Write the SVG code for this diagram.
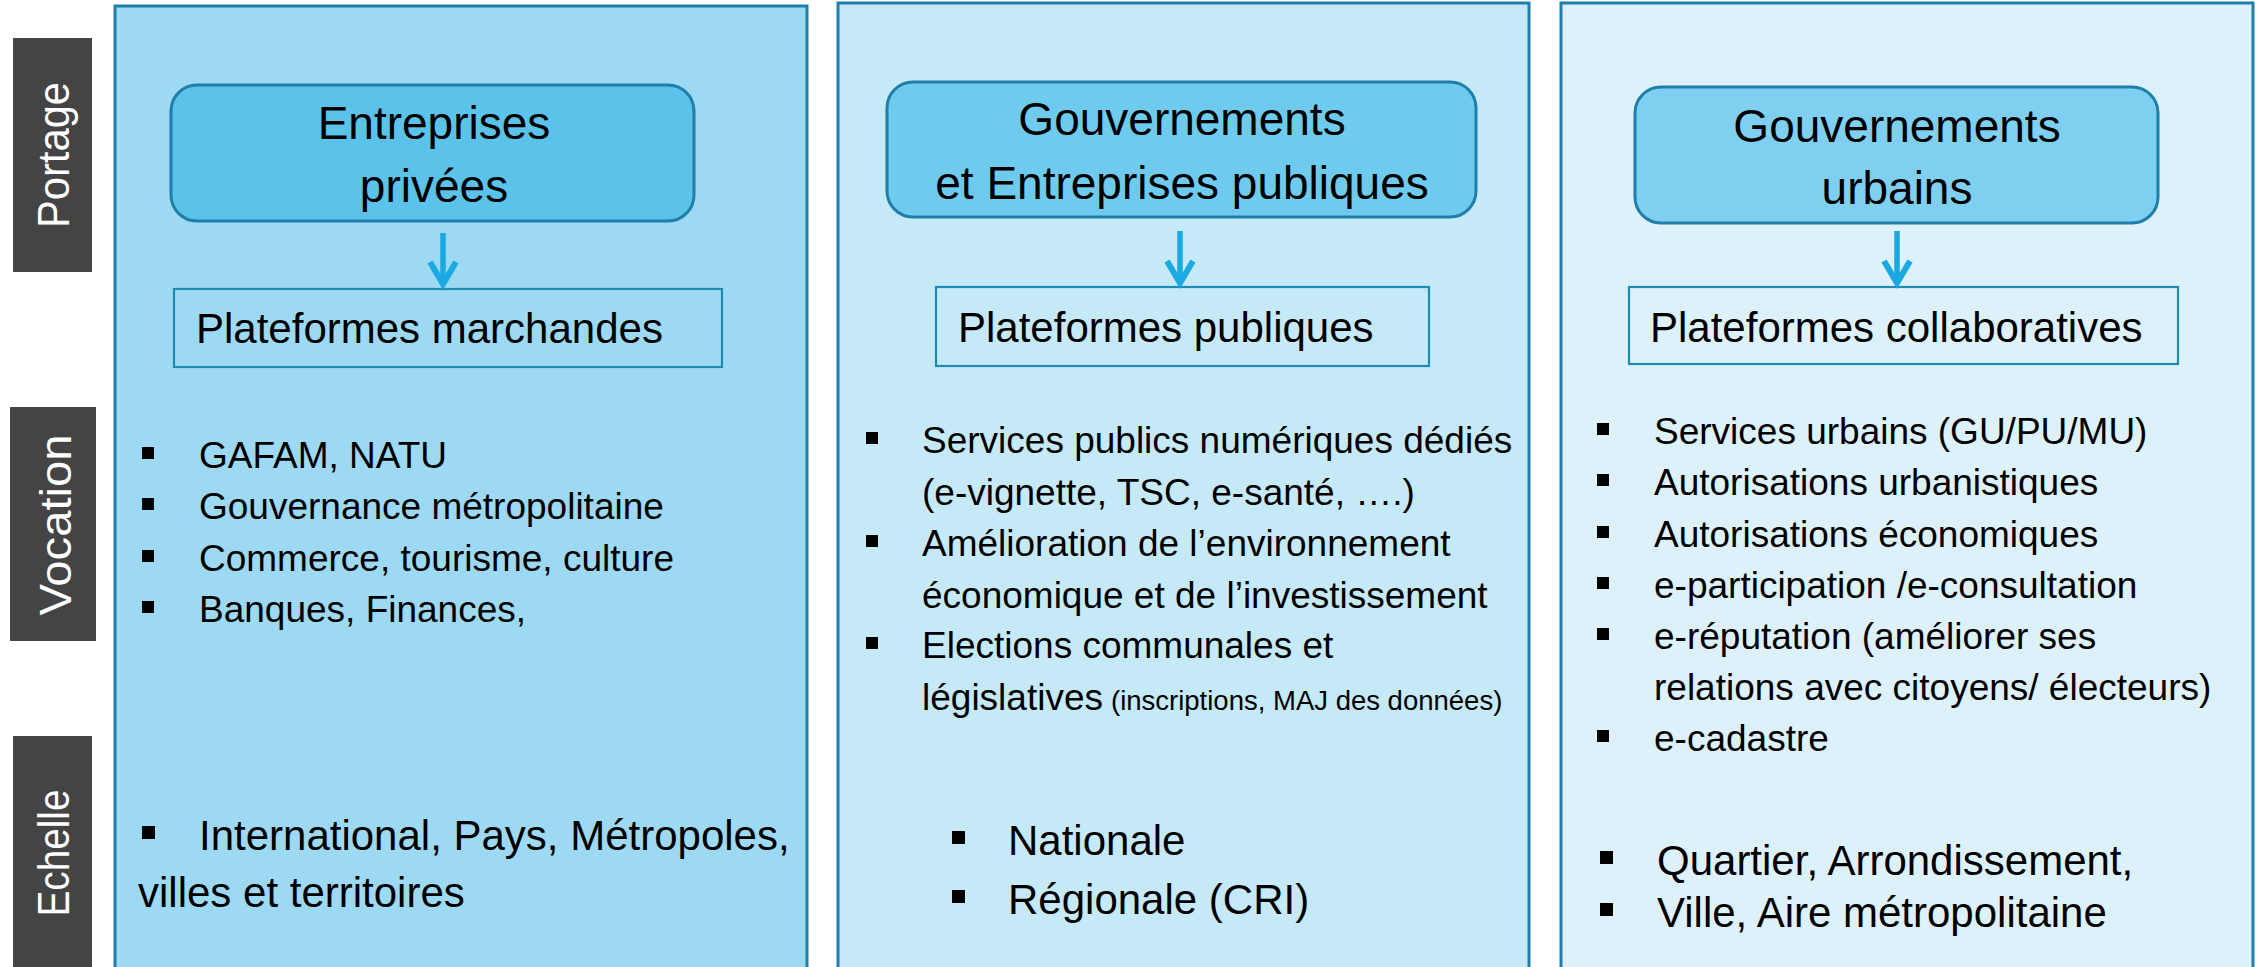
<svg xmlns="http://www.w3.org/2000/svg" width="2262" height="967" viewBox="0 0 2262 967">
<defs>
<style>
.lab{fill:#444444}
.labt{font-family:"Liberation Sans",Arial,sans-serif;font-size:44px;fill:#ffffff;text-anchor:middle}
.panel{stroke:#1f7faa;stroke-width:3}
.head{stroke:#1f7faa;stroke-width:3}
.plat{fill:none;stroke:#1f8ab3;stroke-width:2.2}
.t{font-family:"Liberation Sans",Arial,sans-serif;fill:#000000}
.title{font-size:46px;text-anchor:middle}
.pt{font-size:42px}
.b{font-size:37px}
.e{font-size:42px}
.sm{font-size:27.5px}
.bul{fill:#000000}
.arr{stroke:#1ba9e1;stroke-width:5.5;fill:none;stroke-linecap:butt}
.arrh{stroke:#1ba9e1;stroke-width:6;fill:none;stroke-linejoin:miter;stroke-linecap:butt}
</style>
</defs>
<rect width="2262" height="967" fill="#ffffff"/>

<g id="label-portage">
<rect class="lab" x="13" y="38" width="79" height="234"/>
<text class="labt" transform="translate(69,155) rotate(-90)" textLength="146" lengthAdjust="spacingAndGlyphs">Portage</text>
</g>
<g id="label-vocation">
<rect class="lab" x="10" y="407" width="86" height="234"/>
<text class="labt" transform="translate(71,525) rotate(-90)" textLength="181" lengthAdjust="spacingAndGlyphs">Vocation</text>
</g>
<g id="label-echelle">
<rect class="lab" x="13" y="736" width="79" height="240"/>
<text class="labt" transform="translate(69,853) rotate(-90)" textLength="127" lengthAdjust="spacingAndGlyphs">Echelle</text>
</g>

<g id="panel-prive">
<rect class="panel" x="115" y="6" width="692" height="975" fill="#9dd9f2"/>
</g>
<g id="panel-public">
<rect class="panel" x="838" y="3" width="691" height="978" fill="#c6e9f8"/>
</g>
<g id="panel-urbain">
<rect class="panel" x="1561" y="3" width="692" height="978" fill="#ddf1fb"/>
</g>

<g id="node-entreprises-privees">
<rect class="head" x="171" y="85" width="523" height="136" rx="26" fill="#5bc3ea"/>
<text class="t title" x="434" y="139">Entreprises</text>
<text class="t title" x="434" y="202">privées</text>
</g>
<g id="node-gouv-entreprises-publiques">
<rect class="head" x="887" y="82" width="589" height="135" rx="26" fill="#6fcbee"/>
<text class="t title" x="1182" y="135">Gouvernements</text>
<text class="t title" x="1182" y="199">et Entreprises publiques</text>
</g>
<g id="node-gouv-urbains">
<rect class="head" x="1635" y="87" width="523" height="136" rx="26" fill="#7fd0f0"/>
<text class="t title" x="1897" y="142">Gouvernements</text>
<text class="t title" x="1897" y="204">urbains</text>
</g>

<g id="node-plateformes-marchandes">
<rect class="plat" x="174" y="289" width="548" height="78"/>
<text class="t pt" x="196" y="343">Plateformes marchandes</text>
</g>
<g id="node-plateformes-publiques">
<rect class="plat" x="936" y="287" width="493" height="79"/>
<text class="t pt" x="958" y="342">Plateformes publiques</text>
</g>
<g id="node-plateformes-collaboratives">
<rect class="plat" x="1629" y="287" width="549" height="77"/>
<text class="t pt" x="1650" y="342">Plateformes collaboratives</text>
</g>

<g id="connectors">
<line class="arr" x1="443" y1="233" x2="443" y2="284"/>
<polyline class="arrh" points="430,262 443,284 456,262"/>
<line class="arr" x1="1180" y1="231" x2="1180" y2="283"/>
<polyline class="arrh" points="1167,261 1180,283 1193,261"/>
<line class="arr" x1="1897" y1="231" x2="1897" y2="283"/>
<polyline class="arrh" points="1884,261 1897,283 1910,261"/>
</g>

<g id="vocation-prive">
<rect class="bul" x="142" y="447" width="12" height="12"/>
<rect class="bul" x="142" y="498" width="12" height="12"/>
<rect class="bul" x="142" y="550" width="12" height="12"/>
<rect class="bul" x="142" y="601" width="12" height="12"/>
<text class="t b" x="199" y="468">GAFAM, NATU</text>
<text class="t b" x="199" y="519">Gouvernance métropolitaine</text>
<text class="t b" x="199" y="571">Commerce, tourisme, culture</text>
<text class="t b" x="199" y="622">Banques, Finances,</text>
</g>
<g id="vocation-public">
<rect class="bul" x="866" y="432" width="12" height="12"/>
<rect class="bul" x="866" y="535" width="12" height="12"/>
<rect class="bul" x="866" y="637" width="12" height="12"/>
<text class="t b" x="922" y="453">Services publics numériques dédiés</text>
<text class="t b" x="922" y="505">(e-vignette, TSC, e-santé, ….)</text>
<text class="t b" x="922" y="556">Amélioration de l’environnement</text>
<text class="t b" x="922" y="608">économique et de l’investissement</text>
<text class="t b" x="922" y="658">Elections communales et</text>
<text class="t b" x="922" y="710">législatives <tspan class="sm" x="1111">(inscriptions, MAJ des données)</tspan></text>
</g>
<g id="vocation-urbain">
<rect class="bul" x="1597" y="423" width="12" height="12"/>
<rect class="bul" x="1597" y="474" width="12" height="12"/>
<rect class="bul" x="1597" y="526" width="12" height="12"/>
<rect class="bul" x="1597" y="577" width="12" height="12"/>
<rect class="bul" x="1597" y="628" width="12" height="12"/>
<rect class="bul" x="1597" y="730" width="12" height="12"/>
<text class="t b" x="1654" y="444">Services urbains (GU/PU/MU)</text>
<text class="t b" x="1654" y="495">Autorisations urbanistiques</text>
<text class="t b" x="1654" y="547">Autorisations économiques</text>
<text class="t b" x="1654" y="598">e-participation /e-consultation</text>
<text class="t b" x="1654" y="649">e-réputation (améliorer ses</text>
<text class="t b" x="1654" y="700">relations avec citoyens/ électeurs)</text>
<text class="t b" x="1654" y="751">e-cadastre</text>
</g>

<g id="echelle-prive">
<rect class="bul" x="142" y="826" width="13" height="13"/>
<text class="t e" x="199" y="850">International, Pays, Métropoles,</text>
<text class="t e" x="138" y="907">villes et territoires</text>
</g>
<g id="echelle-public">
<rect class="bul" x="952" y="831" width="13" height="13"/>
<rect class="bul" x="952" y="890" width="13" height="13"/>
<text class="t e" x="1008" y="855">Nationale</text>
<text class="t e" x="1008" y="914">Régionale (CRI)</text>
</g>
<g id="echelle-urbain">
<rect class="bul" x="1600" y="851" width="13" height="13"/>
<rect class="bul" x="1600" y="903" width="13" height="13"/>
<text class="t e" x="1657" y="875">Quartier, Arrondissement,</text>
<text class="t e" x="1657" y="927">Ville, Aire métropolitaine</text>
</g>
</svg>
